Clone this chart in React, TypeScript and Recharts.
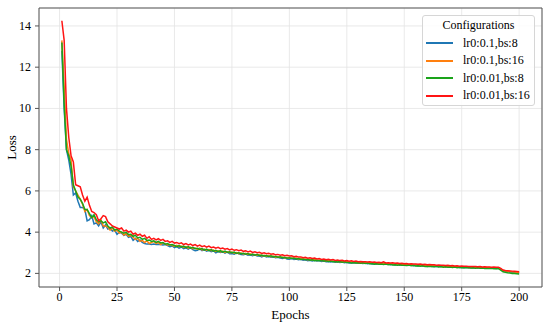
import React from "react";
import {
  LineChart,
  Line,
  XAxis,
  YAxis,
  CartesianGrid,
  ReferenceLine,
} from "recharts";

// loss per epoch (epochs 1..200)
const lr01bs8 = [
  12.8, 10.0, 8.0, 7.5, 6.8, 5.8, 5.9, 5.5, 5.2, 5.2,
  5.1, 4.55, 4.6, 4.8, 4.4, 4.45, 4.3, 4.5, 4.2, 4.35,
  4.15, 4.2, 4.05, 4.1, 3.9, 4.0, 3.95, 3.85, 3.9, 3.75,
  3.8, 3.6, 3.7, 3.55, 3.62, 3.5, 3.45, 3.42, 3.42, 3.4,
  3.42, 3.4, 3.41, 3.4, 3.38, 3.4, 3.35, 3.3, 3.33, 3.25,
  3.3, 3.22, 3.28, 3.2, 3.24, 3.18, 3.25, 3.15, 3.1, 3.12,
  3.2, 3.1, 3.15, 3.08, 3.12, 3.05, 3.1, 3.0, 3.06, 3.02,
  3.05, 2.98, 3.04, 2.95, 2.96, 2.93, 3.0, 2.95, 2.92, 2.9,
  2.94, 2.88, 2.9, 2.86, 2.9, 2.84, 2.85, 2.8, 2.86, 2.8,
  2.82, 2.78, 2.8, 2.76, 2.78, 2.74, 2.72, 2.75, 2.7, 2.69,
  2.72, 2.68, 2.7, 2.66, 2.68, 2.64, 2.66, 2.62, 2.64, 2.6,
  2.63, 2.6, 2.62, 2.58, 2.6, 2.57, 2.58, 2.55, 2.57, 2.54,
  2.56, 2.53, 2.55, 2.52, 2.54, 2.51, 2.52, 2.5, 2.52, 2.49,
  2.5, 2.48, 2.5, 2.47, 2.49, 2.46, 2.47, 2.45, 2.47, 2.44,
  2.48, 2.44, 2.45, 2.42, 2.44, 2.41, 2.43, 2.4, 2.42, 2.4,
  2.41, 2.39, 2.4, 2.37, 2.39, 2.36, 2.38, 2.36, 2.37, 2.34,
  2.36, 2.34, 2.35, 2.33, 2.34, 2.32, 2.34, 2.31, 2.33, 2.3,
  2.32, 2.3, 2.31, 2.29, 2.3, 2.28, 2.3, 2.27, 2.29, 2.27,
  2.28, 2.26, 2.28, 2.26, 2.27, 2.25, 2.26, 2.25, 2.26, 2.24,
  2.26, 2.2, 2.12, 2.1, 2.09, 2.08, 2.06, 2.05, 2.04, 2.02,
];

const lr01bs16 = [
  13.3, 11.0, 8.5, 7.8, 7.5, 6.2, 6.0, 5.8, 5.6, 5.35,
  5.0, 5.1, 4.8, 4.7, 4.75, 4.5, 4.4, 4.6, 4.3, 4.3,
  4.25, 4.1, 4.2, 4.05, 4.1, 3.95, 4.0, 3.85, 3.95, 3.8,
  3.85, 3.75, 3.65, 3.7, 3.55, 3.6, 3.5, 3.58, 3.45, 3.5,
  3.55, 3.45, 3.5, 3.4, 3.48, 3.42, 3.38, 3.4, 3.35, 3.32,
  3.36, 3.3, 3.33, 3.26, 3.3, 3.22, 3.27, 3.2, 3.23, 3.17,
  3.22, 3.14, 3.18, 3.12, 3.16, 3.1, 3.13, 3.06, 3.1, 3.04,
  3.08, 3.02, 3.05, 3.0, 3.03, 2.98, 3.01, 2.96, 2.99, 2.94,
  2.97, 2.92, 2.95, 2.9, 2.92, 2.88, 2.9, 2.85, 2.88, 2.83,
  2.86, 2.81, 2.84, 2.79, 2.81, 2.77, 2.79, 2.75, 2.77, 2.74,
  2.75, 2.72, 2.74, 2.7, 2.72, 2.68, 2.7, 2.66, 2.68, 2.65,
  2.67, 2.63, 2.65, 2.62, 2.63, 2.6, 2.62, 2.59, 2.6, 2.58,
  2.59, 2.57, 2.58, 2.55, 2.57, 2.54, 2.55, 2.53, 2.54, 2.52,
  2.53, 2.51, 2.52, 2.5, 2.51, 2.49, 2.5, 2.48, 2.49, 2.47,
  2.5, 2.46, 2.47, 2.45, 2.46, 2.44, 2.45, 2.43, 2.44, 2.42,
  2.43, 2.41, 2.42, 2.4, 2.41, 2.39, 2.4, 2.38, 2.39, 2.37,
  2.38, 2.36, 2.37, 2.35, 2.36, 2.34, 2.35, 2.33, 2.34, 2.32,
  2.33, 2.31, 2.32, 2.3, 2.31, 2.3, 2.31, 2.29, 2.3, 2.28,
  2.29, 2.28, 2.29, 2.27, 2.28, 2.27, 2.28, 2.26, 2.27, 2.26,
  2.27, 2.21, 2.13, 2.11, 2.1, 2.09, 2.08, 2.07, 2.06, 2.05,
];

const lr001bs8 = [
  13.2, 10.2, 8.0, 7.7, 7.2, 6.3, 6.0, 5.7, 5.6, 5.4,
  5.1, 5.1, 4.9, 4.7, 4.85, 4.6, 4.5, 4.55, 4.45, 4.5,
  4.3, 4.2, 4.25, 4.1, 4.15, 4.05, 4.0, 3.95, 4.0, 3.88,
  3.9, 3.8, 3.85, 3.72, 3.75, 3.65, 3.7, 3.6, 3.62, 3.55,
  3.58, 3.5, 3.55, 3.48, 3.5, 3.42, 3.45, 3.38, 3.4, 3.35,
  3.3, 3.35, 3.28, 3.32, 3.25, 3.3, 3.22, 3.26, 3.2, 3.22,
  3.16, 3.2, 3.13, 3.18, 3.1, 3.15, 3.08, 3.12, 3.05, 3.1,
  3.03, 3.08, 3.02, 3.05, 3.0, 3.03, 2.97, 3.0, 2.95, 2.98,
  2.93, 2.96, 2.9, 2.94, 2.88, 2.92, 2.86, 2.89, 2.84, 2.87,
  2.82, 2.85, 2.8, 2.83, 2.78, 2.8, 2.76, 2.78, 2.74, 2.76,
  2.72, 2.74, 2.7, 2.72, 2.68, 2.7, 2.66, 2.68, 2.64, 2.66,
  2.62, 2.64, 2.61, 2.63, 2.6, 2.61, 2.58, 2.6, 2.57, 2.58,
  2.55, 2.57, 2.54, 2.56, 2.53, 2.54, 2.51, 2.53, 2.5, 2.52,
  2.49, 2.51, 2.48, 2.5, 2.47, 2.48, 2.45, 2.47, 2.44, 2.46,
  2.43, 2.45, 2.42, 2.44, 2.41, 2.42, 2.4, 2.42, 2.39, 2.4,
  2.38, 2.4, 2.37, 2.39, 2.36, 2.37, 2.35, 2.37, 2.34, 2.35,
  2.33, 2.35, 2.32, 2.34, 2.31, 2.33, 2.3, 2.32, 2.3, 2.31,
  2.29, 2.31, 2.28, 2.3, 2.27, 2.29, 2.27, 2.28, 2.26, 2.27,
  2.25, 2.27, 2.25, 2.26, 2.24, 2.25, 2.24, 2.25, 2.23, 2.24,
  2.23, 2.16, 2.08, 2.05, 2.03, 2.02, 2.0, 1.99, 1.98, 1.97,
];

const lr001bs16 = [
  14.25, 13.3, 10.0, 8.6, 7.7, 7.4, 6.3, 6.25, 6.2, 5.8,
  5.5, 5.7, 5.3, 5.0, 4.95, 4.85, 4.55, 4.65, 4.8, 4.75,
  4.5, 4.4, 4.3, 4.25, 4.2, 4.15, 4.2, 4.05, 4.1, 4.0,
  4.05, 3.9, 3.95, 3.85, 3.9, 3.8, 3.85, 3.7, 3.78, 3.65,
  3.7, 3.62, 3.68, 3.6, 3.65, 3.55, 3.58, 3.5, 3.55, 3.47,
  3.5, 3.44, 3.48, 3.4, 3.45, 3.38, 3.42, 3.35, 3.4, 3.32,
  3.37, 3.3, 3.34, 3.27, 3.32, 3.25, 3.28, 3.22, 3.26, 3.2,
  3.23, 3.17, 3.2, 3.14, 3.18, 3.12, 3.15, 3.1, 3.13, 3.07,
  3.1, 3.04, 3.08, 3.02, 3.05, 3.0, 3.02, 2.97, 3.0, 2.95,
  2.98, 2.93, 2.95, 2.9, 2.92, 2.88, 2.9, 2.86, 2.88, 2.84,
  2.85, 2.81, 2.83, 2.79, 2.8, 2.76, 2.78, 2.74, 2.76, 2.72,
  2.74, 2.7, 2.72, 2.68, 2.7, 2.66, 2.68, 2.65, 2.67, 2.63,
  2.65, 2.62, 2.64, 2.6, 2.62, 2.59, 2.61, 2.58, 2.6, 2.57,
  2.58, 2.56, 2.57, 2.55, 2.56, 2.54, 2.55, 2.53, 2.54, 2.52,
  2.56, 2.51, 2.52, 2.5, 2.51, 2.49, 2.5, 2.48, 2.49, 2.47,
  2.48, 2.46, 2.47, 2.45, 2.46, 2.44, 2.45, 2.43, 2.44, 2.42,
  2.43, 2.42, 2.42, 2.4, 2.41, 2.39, 2.4, 2.38, 2.39, 2.37,
  2.38, 2.36, 2.37, 2.35, 2.36, 2.35, 2.35, 2.34, 2.34, 2.33,
  2.33, 2.32, 2.33, 2.31, 2.32, 2.31, 2.31, 2.3, 2.31, 2.3,
  2.3, 2.24, 2.16, 2.14, 2.13, 2.12, 2.11, 2.1, 2.09, 2.08,
];

const epochs = lr01bs8.map((_, i) => i + 1);
const xTicks = [0, 25, 50, 75, 100, 125, 150, 175, 200];
const yTicks = [2, 4, 6, 8, 10, 12, 14];
const X_DOMAIN: [number, number] = [-8.95, 209.95];
const Y_DOMAIN: [number, number] = [1.34, 14.87];

const series = [
  { key: "a", name: "lr0:0.1,bs:8", color: "#1f77b4", values: lr01bs8 },
  { key: "b", name: "lr0:0.1,bs:16", color: "#ff7f0e", values: lr01bs16 },
  { key: "c", name: "lr0:0.01,bs:8", color: "#1aa31a", values: lr001bs8 },
  { key: "d", name: "lr0:0.01,bs:16", color: "#ff1414", values: lr001bs16 },
];

const data = epochs.map((epoch, i) => {
  const row: Record<string, number> = { epoch };
  series.forEach((s) => {
    row[s.key] = s.values[i];
  });
  return row;
});

const FONT = "'Liberation Serif', 'Times New Roman', serif";
const FRAME = "#555";

function XTick({ x, y, payload }: any) {
  return (
    <text x={x} y={y + 9} textAnchor="middle" fontSize={12} fontFamily={FONT} fill="#000">
      {payload.value}
    </text>
  );
}

function YTick({ x, y, payload }: any) {
  return (
    <text x={x} y={y + 4} textAnchor="end" fontSize={12} fontFamily={FONT} fill="#000">
      {payload.value}
    </text>
  );
}

function ConfigLegend() {
  return (
    <div
      style={{
        position: "absolute",
        left: 422,
        top: 15,
        width: 113,
        height: 91,
        boxSizing: "border-box",
        background: "rgba(255,255,255,0.85)",
        border: "1px solid #d6d6d6",
        borderRadius: 3,
        fontFamily: FONT,
        fontSize: 12,
        color: "#000",
      }}
    >
      <div style={{ position: "absolute", top: 2, width: "100%", textAlign: "center" }}>
        Configurations
      </div>
      {series.map((s, i) => (
        <div
          key={s.key}
          style={{ position: "absolute", left: 3, top: 19 + i * 17.6, height: 16, display: "flex", alignItems: "center" }}
        >
          <span style={{ display: "inline-block", width: 27, height: 2, background: s.color }} />
          <span style={{ marginLeft: 10, whiteSpace: "nowrap" }}>{s.name}</span>
        </div>
      ))}
    </div>
  );
}

export default function App() {
  return (
    <div style={{ position: "absolute", left: 0, top: 0, width: 550, height: 326, background: "#fff", fontFamily: FONT }}>
      <LineChart
        width={550}
        height={326}
        data={data}
        margin={{ top: 8, right: 8, bottom: 0, left: 0 }}
      >
        <CartesianGrid stroke="#e3e3e3" strokeWidth={0.8} />
        <XAxis
          type="number"
          dataKey="epoch"
          domain={X_DOMAIN}
          ticks={xTicks}
          allowDataOverflow
          height={39}
          tick={<XTick />}
          tickSize={4}
          tickMargin={1}
          stroke={FRAME}
          label={{ value: "Epochs", position: "insideBottom", offset: 7, style: { fontSize: 13, fill: "#000", fontFamily: FONT } }}
        />
        <YAxis
          domain={Y_DOMAIN}
          ticks={yTicks}
          allowDataOverflow
          width={39}
          tick={<YTick />}
          tickSize={4}
          tickMargin={4}
          stroke={FRAME}
          label={{ value: "Loss", angle: -90, position: "insideLeft", offset: 11, style: { fontSize: 13, fill: "#000", fontFamily: FONT, textAnchor: "middle" } }}
        />
        <ReferenceLine y={Y_DOMAIN[1]} stroke={FRAME} strokeWidth={1} ifOverflow="visible" />
        <ReferenceLine x={X_DOMAIN[1]} stroke={FRAME} strokeWidth={1} ifOverflow="visible" />
        {series.map((s) => (
          <Line
            key={s.key}
            dataKey={s.key}
            name={s.name}
            stroke={s.color}
            strokeWidth={1.5}
            dot={false}
            type="linear"
            isAnimationActive={false}
          />
        ))}
      </LineChart>
      <ConfigLegend />
    </div>
  );
}
